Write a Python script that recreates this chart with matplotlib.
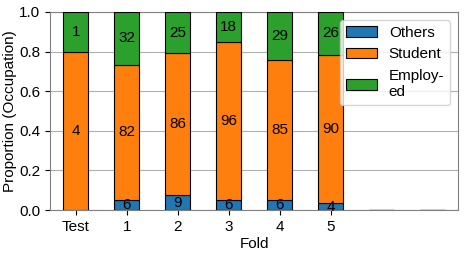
import matplotlib.pyplot as plt
import numpy as np

plt.rcParams['font.family'] = ['Liberation Sans', 'DejaVu Sans']

folds = ['Test', '1', '2', '3', '4', '5', '', '']
others = [0, 6, 9, 6, 6, 4, 0, 0]
student = [4, 82, 86, 96, 85, 90, 0, 0]
employed = [1, 32, 25, 18, 29, 26, 0, 0]

counts = np.array([others, student, employed], dtype=float)
totals = counts.sum(axis=0)
props = np.divide(counts, totals, out=np.zeros_like(counts), where=totals > 0)

names = ['Others', 'Student', 'Employ-\ned']
colors = ['#1f77b4', '#ff7f0e', '#2ca02c']

fig, ax = plt.subplots(figsize=(4.65, 2.54), dpi=100)
x = np.arange(len(folds))
bottom = np.zeros(len(folds))
for i in range(3):
    ax.bar(x, props[i], 0.5, bottom=bottom, color=colors[i], edgecolor='black',
           linewidth=0.8, label=names[i], zorder=3)
    for j in range(6):
        if counts[i, j] > 0:
            ax.text(x[j], bottom[j] + props[i, j] / 2, str(int(counts[i, j])),
                    ha='center', va='center', fontsize=11, zorder=4)
    bottom += props[i]

ax.set_xticks(x[:6])
ax.set_xticklabels(folds[:6])
ax.set_xlim(-0.5, 7.5)
ax.set_ylim(0, 1)
ax.set_yticks([0, 0.2, 0.4, 0.6, 0.8, 1.0])
ax.set_xlabel('Fold', fontsize=11, labelpad=2)
ax.set_ylabel('Proportion (Occupation)', fontsize=11, labelpad=2)
ax.tick_params(labelsize=11)
ax.yaxis.grid(True, color='#b0b0b0', linewidth=0.8, zorder=0)
for s in ax.spines.values():
    s.set_color('#808080')
ax.legend(loc='upper right', fontsize=11)

plt.subplots_adjust(left=0.108, right=0.985, top=0.953, bottom=0.173)
plt.savefig('out.png')
